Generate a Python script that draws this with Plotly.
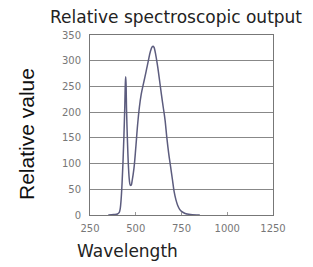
import plotly.graph_objects as go

wavelength = [350, 380, 400, 410, 415, 420, 425, 430, 435, 440, 443, 445, 447, 450, 455, 460, 465, 470, 475, 480, 490,
              500, 510, 520, 530, 540, 550, 560, 570, 580, 590, 595, 600, 610, 620, 630, 640, 650, 660, 670, 680,
              690, 700, 710, 720, 730, 740, 750, 770, 800, 850]
relative_value = [0, 1, 2, 5, 12, 30, 60, 100, 150, 210, 255, 269, 255, 200, 140, 95, 68, 58, 58, 66, 90,
                  130, 175, 210, 235, 252, 268, 285, 302, 318, 327, 328, 326, 310, 288, 262, 235, 210, 185, 150, 120,
                  95, 70, 45, 29, 18, 11, 7, 3, 1, 0]
x_ticks = [250, 500, 750, 1000, 1250]
y_ticks = [0, 50, 100, 150, 200, 250, 300, 350]

fig = go.Figure()
fig.add_trace(go.Scatter(x=wavelength, y=relative_value, mode="lines",
                         line=dict(color="#5c5c7e", width=1.5, shape="spline"), showlegend=False))

fig.update_layout(
    width=305, height=259,
    margin=dict(l=82, r=40, t=27, b=52),
    paper_bgcolor="white", plot_bgcolor="white",
    font=dict(family="DejaVu Sans", color="#555"),
    xaxis=dict(range=[250, 1250], tickvals=x_ticks, showgrid=False, zeroline=False,
               showline=True, linecolor="#777", linewidth=1, mirror=True,
               ticks="inside", ticklen=3, tickcolor="#999", ticklabelstandoff=4,
               tickfont=dict(size=10, color="#777")),
    yaxis=dict(range=[0, 350], tickvals=y_ticks, showgrid=True, gridcolor="#888", gridwidth=1, zeroline=False,
               showline=True, linecolor="#777", linewidth=1, mirror=True, ticklabelstandoff=6,
               tickfont=dict(size=10, color="#777")),
)
fig.add_annotation(text="Relative spectroscopic output", xref="paper", yref="paper", x=0.47, y=1.0,
                   xanchor="center", yanchor="bottom", yshift=6, showarrow=False,
                   font=dict(family="DejaVu Sans", size=17, color="#222"))
fig.add_annotation(text="Relative value", xref="paper", yref="paper", x=0, y=0.45, xshift=-64,
                   xanchor="center", yanchor="middle", textangle=-90, showarrow=False,
                   font=dict(family="Liberation Sans", size=21, color="#111"))
fig.add_annotation(text="Wavelength", xref="paper", yref="paper", x=0.0, y=0, xshift=-15, yshift=-24,
                   xanchor="left", yanchor="top", showarrow=False,
                   font=dict(family="DejaVu Sans", size=17, color="#222"))

fig.write_html("out.html")
